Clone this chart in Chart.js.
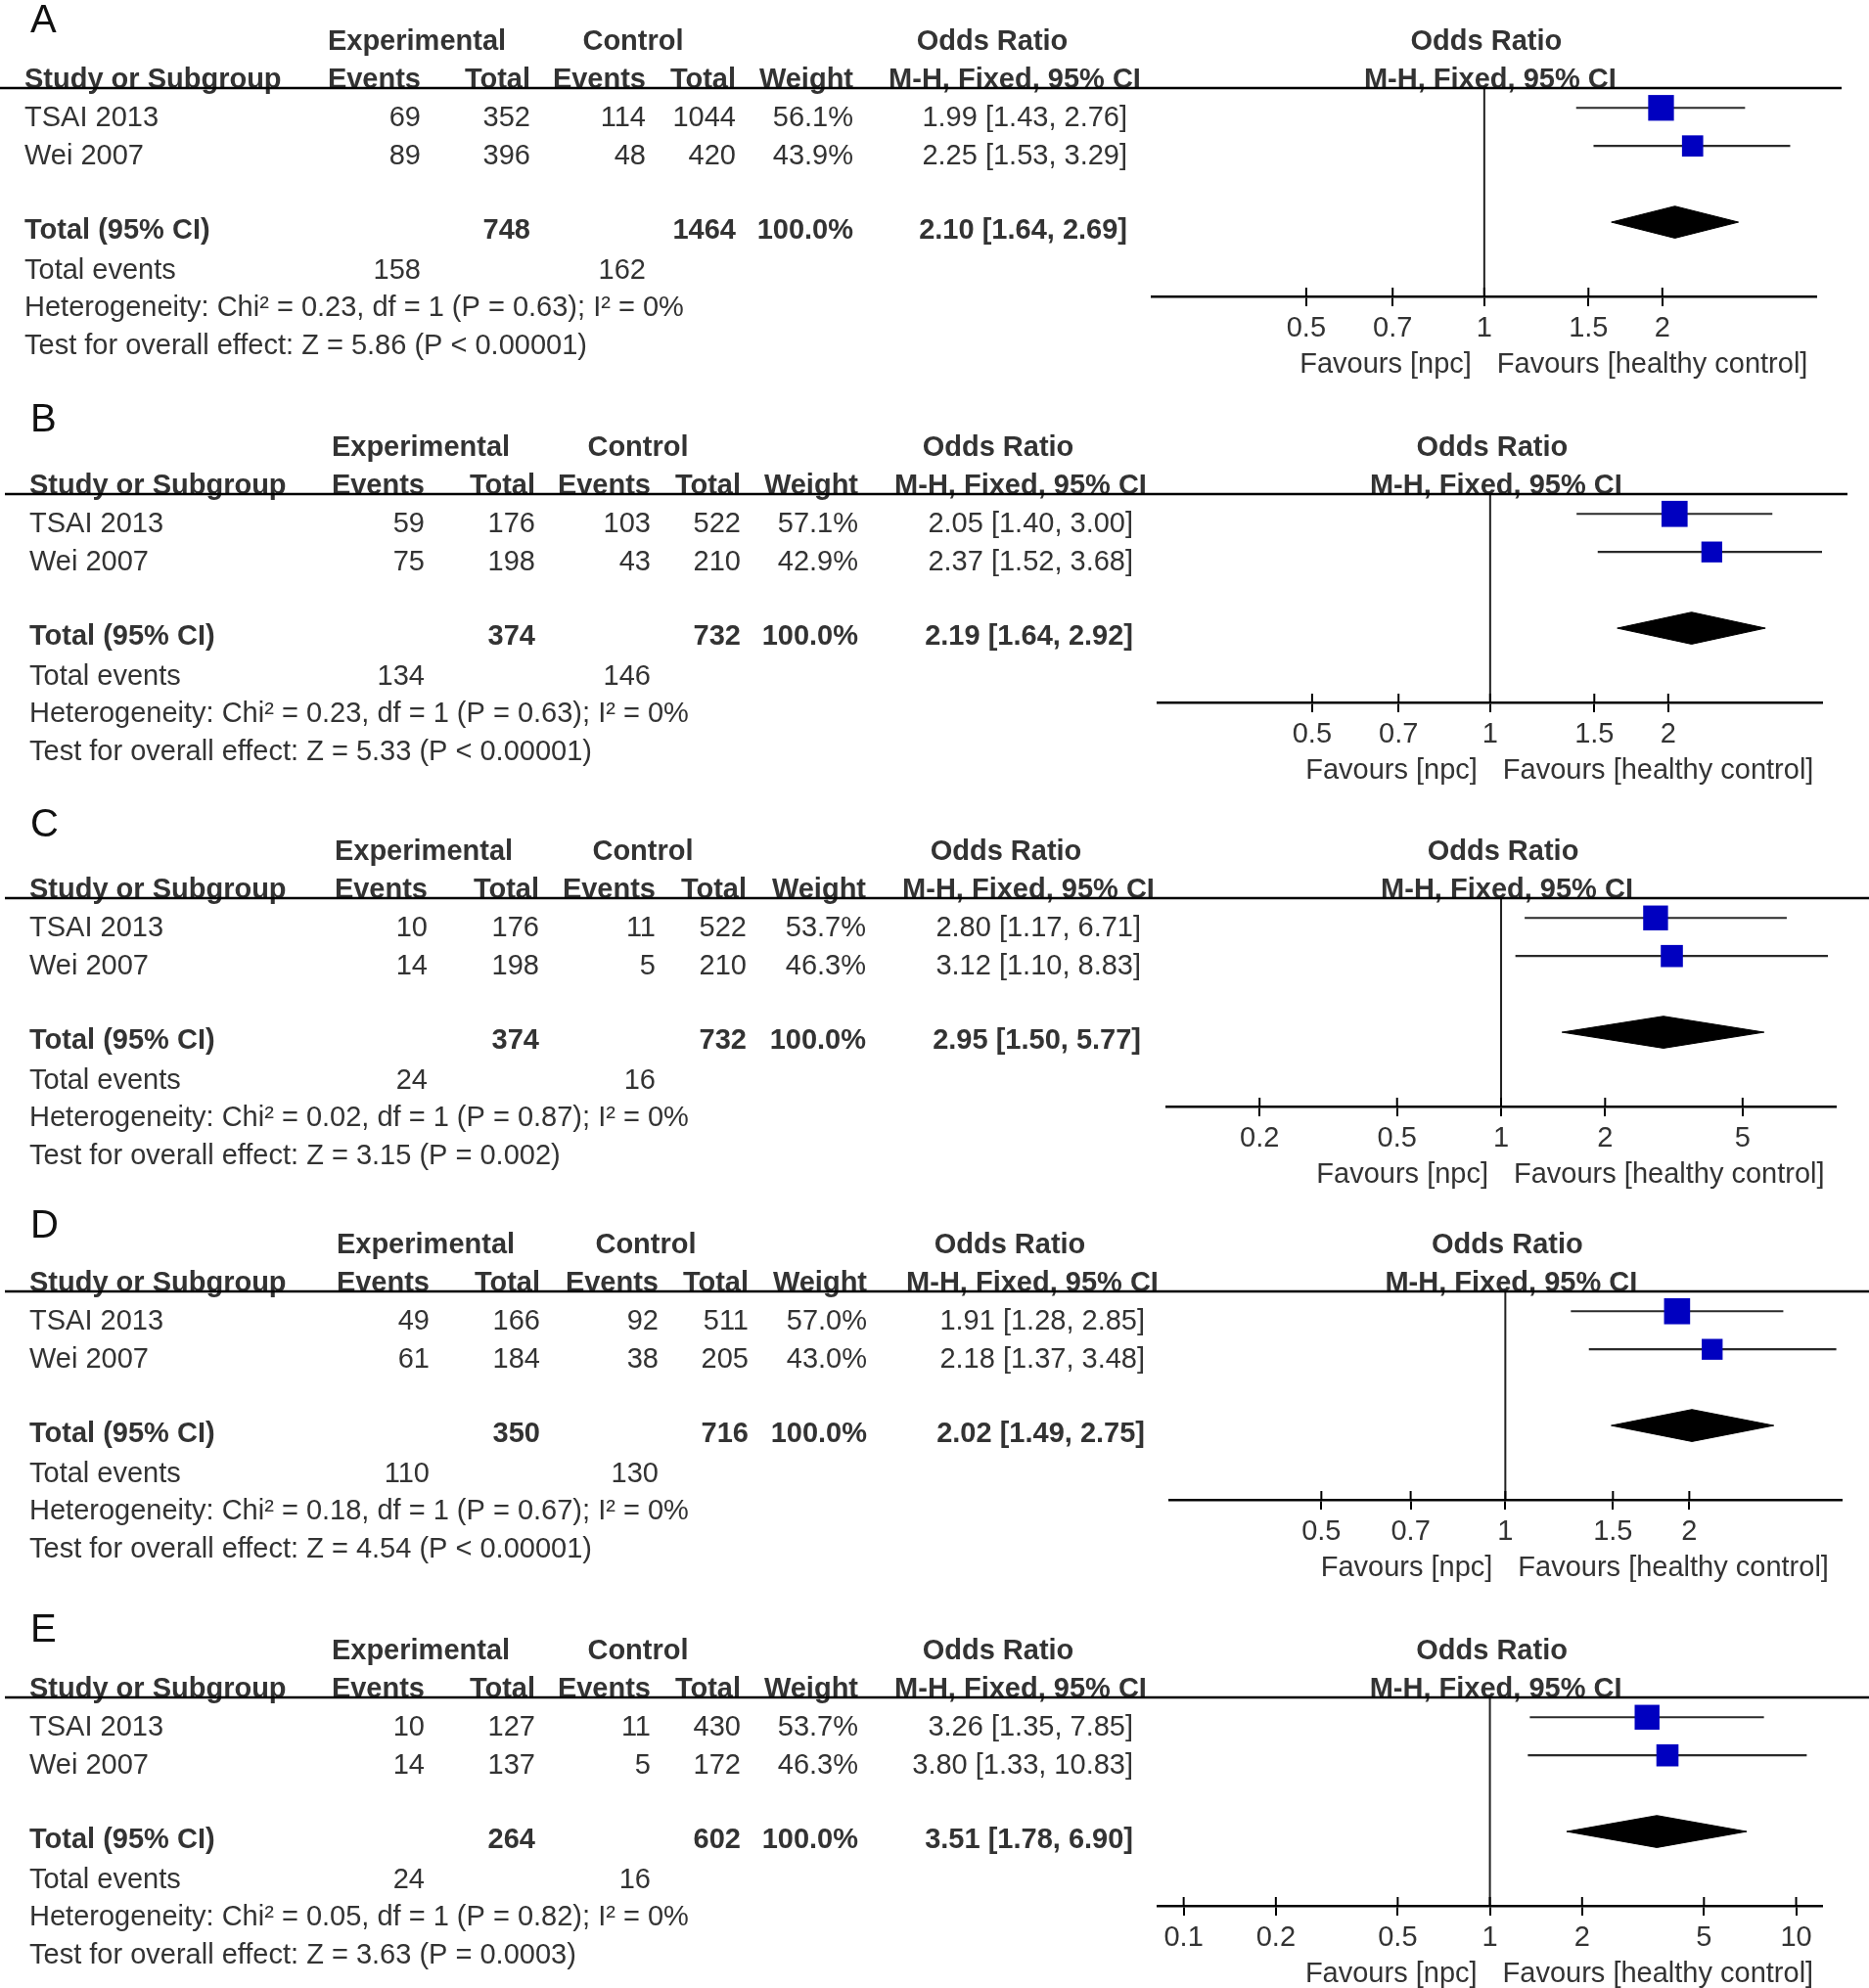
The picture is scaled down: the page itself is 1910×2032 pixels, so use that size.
<!DOCTYPE html>
<html>
<head>
<meta charset="utf-8">
<script src="https://cdn.jsdelivr.net/npm/chart.js@4.4.1/dist/chart.umd.min.js"></script>
<style>
  html, body { margin: 0; padding: 0; background: #fff; overflow: hidden; }
  #page { position: relative; width: 1910px; height: 2032px; }
  #page canvas { position: absolute; left: 0; }
</style>
</head>
<body>
<div id="page"></div>
<script>
// ---- data ----
const panelLetters = ['A', 'B', 'C', 'D', 'E'];
const studyNames = ['TSAI 2013', 'Wei 2007'];
const expEvents = [[69, 89], [59, 75], [10, 14], [49, 61], [10, 14]];
const expTotals = [[352, 396], [176, 198], [176, 198], [166, 184], [127, 137]];
const ctrlEvents = [[114, 48], [103, 43], [11, 5], [92, 38], [11, 5]];
const ctrlTotals = [[1044, 420], [522, 210], [522, 210], [511, 205], [430, 172]];
const weights = [[56.1, 43.9], [57.1, 42.9], [53.7, 46.3], [57.0, 43.0], [53.7, 46.3]];
const oddsRatios = [[1.99, 2.25], [2.05, 2.37], [2.80, 3.12], [1.91, 2.18], [3.26, 3.80]];
const ciLower = [[1.43, 1.53], [1.40, 1.52], [1.17, 1.10], [1.28, 1.37], [1.35, 1.33]];
const ciUpper = [[2.76, 3.29], [3.00, 3.68], [6.71, 8.83], [2.85, 3.48], [7.85, 10.83]];
const pooledOR = [2.10, 2.19, 2.95, 2.02, 3.51];
const pooledLower = [1.64, 1.64, 1.50, 1.49, 1.78];
const pooledUpper = [2.69, 2.92, 5.77, 2.75, 6.90];
const expTotalAll = [748, 374, 374, 350, 264];
const ctrlTotalAll = [1464, 732, 732, 716, 602];
const expEventsAll = [158, 134, 24, 110, 24];
const ctrlEventsAll = [162, 146, 16, 130, 16];
const heterogeneity = [
  'Heterogeneity: Chi² = 0.23, df = 1 (P = 0.63); I² = 0%',
  'Heterogeneity: Chi² = 0.23, df = 1 (P = 0.63); I² = 0%',
  'Heterogeneity: Chi² = 0.02, df = 1 (P = 0.87); I² = 0%',
  'Heterogeneity: Chi² = 0.18, df = 1 (P = 0.67); I² = 0%',
  'Heterogeneity: Chi² = 0.05, df = 1 (P = 0.82); I² = 0%'
];
const overallEffect = [
  'Test for overall effect: Z = 5.86 (P < 0.00001)',
  'Test for overall effect: Z = 5.33 (P < 0.00001)',
  'Test for overall effect: Z = 3.15 (P = 0.002)',
  'Test for overall effect: Z = 4.54 (P < 0.00001)',
  'Test for overall effect: Z = 3.63 (P = 0.0003)'
];
const axisTicks = [
  [0.5, 0.7, 1, 1.5, 2],
  [0.5, 0.7, 1, 1.5, 2],
  [0.2, 0.5, 1, 2, 5],
  [0.5, 0.7, 1, 1.5, 2],
  [0.1, 0.2, 0.5, 1, 2, 5, 10]
];
const axisMin = [0.274, 0.274, 0.1075, 0.282, 0.0822];
const axisMax = [3.64, 3.64, 9.30, 3.55, 12.15];

// ---- layout ----
const FONT = '"Liberation Sans", Arial, sans-serif';
const FS = 29;
const TEXT_COLOR = '#333';
const HEADER_Y = [40, 455, 868, 1270, 1685];   // first header line, page px
const HEAD_OFFSET = 60;                          // where that line sits in each canvas
const CANVAS_H = 420;
const LETTER_Y = [42, 35, 36, 44, 42];
const PLOT_LEFT = [1177, 1183, 1192, 1195, 1183];
const PLOT_RIGHT = [1856, 1862, 1876, 1882, 1862];
const RULE_X = [[0, 1882], [5, 1888], [5, 1910], [5, 1910], [5, 1910]];
const NAME_X = [25, 30, 30, 30, 30];
const COL_RIGHT = [
  [430, 542, 660, 752, 872, 1152],
  [434, 547, 665, 757, 877, 1158],
  [437, 551, 670, 763, 885, 1166],
  [439, 552, 673, 765, 886, 1170],
  [434, 547, 665, 757, 877, 1158]
];
const ROW_TOP = 1.48, ROW_BOTTOM = 6.95;   // y scale range (rule -> axis)
const STUDY_ROWS = [2, 3];
const TOTAL_ROW = 5;
const TEXT_SHIFT = 0.27;
const DIAMOND_HALF = 0.42;

function squareSide(w) {
  return 5.15 + 0.377 * w;   // box size grows with weight
}

function fmtCI(o, l, h) {
  return o.toFixed(2) + ' [' + l.toFixed(2) + ', ' + h.toFixed(2) + ']';
}

const forestTable = {
  id: 'forestTable',
  afterDraw(chart, args, opts) {
    const i = opts.panel;
    const ctx = chart.ctx;
    const xs = chart.scales.x;
    const ys = chart.scales.y;
    const area = chart.chartArea;
    const rowY = r => ys.getPixelForValue(r + TEXT_SHIFT);
    const col = COL_RIGHT[i];
    const vx = xs.getPixelForValue(1);

    function txt(s, x, y, align, bold, size) {
      ctx.font = (bold ? 'bold ' : '') + (size || FS) + 'px ' + FONT;
      ctx.textAlign = align;
      ctx.fillText(s, x, y);
    }

    ctx.save();
    ctx.fillStyle = TEXT_COLOR;
    ctx.textBaseline = 'middle';

    // panel letter
    ctx.fillStyle = '#111';
    txt(panelLetters[i], 31, LETTER_Y[i], 'left', false, 40);
    ctx.fillStyle = TEXT_COLOR;

    // header lines
    const h1 = rowY(0), h2 = rowY(1);
    txt('Experimental', col[0] - 4, h1, 'center', true);
    txt('Control', col[2] - 13, h1, 'center', true);
    txt('Odds Ratio', col[5] - 138, h1, 'center', true);
    txt('Odds Ratio', vx + 2, h1, 'center', true);
    txt('Study or Subgroup', NAME_X[i], h2, 'left', true);
    txt('Events', col[0], h2, 'right', true);
    txt('Total', col[1], h2, 'right', true);
    txt('Events', col[2], h2, 'right', true);
    txt('Total', col[3], h2, 'right', true);
    txt('Weight', col[4], h2, 'right', true);
    txt('M-H, Fixed, 95% CI', col[5] - 115, h2, 'center', true);
    txt('M-H, Fixed, 95% CI', vx + 6, h2, 'center', true);

    // study rows
    studyNames.forEach((name, k) => {
      const y = rowY(STUDY_ROWS[k]);
      txt(name, NAME_X[i], y, 'left', false);
      txt(String(expEvents[i][k]), col[0], y, 'right', false);
      txt(String(expTotals[i][k]), col[1], y, 'right', false);
      txt(String(ctrlEvents[i][k]), col[2], y, 'right', false);
      txt(String(ctrlTotals[i][k]), col[3], y, 'right', false);
      txt(weights[i][k].toFixed(1) + '%', col[4], y, 'right', false);
      txt(fmtCI(oddsRatios[i][k], ciLower[i][k], ciUpper[i][k]), col[5], y, 'right', false);
    });

    // total rows
    let y = rowY(TOTAL_ROW) - 2;
    const wSum = weights[i].reduce((a, b) => a + b, 0);
    txt('Total (95% CI)', NAME_X[i], y, 'left', true);
    txt(String(expTotalAll[i]), col[1], y, 'right', true);
    txt(String(ctrlTotalAll[i]), col[3], y, 'right', true);
    txt(wSum.toFixed(1) + '%', col[4], y, 'right', true);
    txt(fmtCI(pooledOR[i], pooledLower[i], pooledUpper[i]), col[5], y, 'right', true);
    y = rowY(TOTAL_ROW + 1);
    txt('Total events', NAME_X[i], y, 'left', false);
    txt(String(expEventsAll[i]), col[0], y, 'right', false);
    txt(String(ctrlEventsAll[i]), col[2], y, 'right', false);
    txt(heterogeneity[i], NAME_X[i], rowY(TOTAL_ROW + 2), 'left', false);
    txt(overallEffect[i], NAME_X[i], rowY(TOTAL_ROW + 3), 'left', false);

    // favours labels under the axis
    const fy = area.bottom + 70;
    txt('Favours [npc]', vx - 13, fy, 'right', false);
    txt('Favours [healthy control]', vx + 13, fy, 'left', false);

    // header rule
    ctx.strokeStyle = '#000';
    ctx.lineWidth = 2.5;
    ctx.beginPath();
    ctx.moveTo(RULE_X[i][0], area.top);
    ctx.lineTo(RULE_X[i][1], area.top);
    ctx.stroke();

    // upper half of the axis ticks
    ctx.lineWidth = 2;
    xs.ticks.forEach(t => {
      const px = xs.getPixelForValue(t.value);
      ctx.beginPath();
      ctx.moveTo(px, area.bottom - 9);
      ctx.lineTo(px, area.bottom);
      ctx.stroke();
    });
    ctx.restore();
  }
};

const page = document.getElementById('page');

panelLetters.forEach((letter, i) => {
  const canvas = document.createElement('canvas');
  canvas.width = 1910;
  canvas.height = CANVAS_H;
  canvas.style.top = (HEADER_Y[i] - HEAD_OFFSET) + 'px';
  page.appendChild(canvas);

  const datasets = [];
  // study squares
  datasets.push({
    data: oddsRatios[i].map((v, k) => ({ x: v, y: STUDY_ROWS[k] })),
    showLine: false,
    pointStyle: 'rect',
    pointRadius: weights[i].map(w => squareSide(w) / Math.SQRT2),
    pointBackgroundColor: '#0000c0',
    pointBorderWidth: 0,
    order: 0
  });
  // pooled diamond
  datasets.push({
    data: [
      { x: pooledLower[i], y: TOTAL_ROW },
      { x: pooledOR[i], y: TOTAL_ROW - DIAMOND_HALF },
      { x: pooledUpper[i], y: TOTAL_ROW },
      { x: pooledOR[i], y: TOTAL_ROW + DIAMOND_HALF },
      { x: pooledLower[i], y: TOTAL_ROW }
    ],
    fill: 'shape',
    backgroundColor: '#000',
    borderColor: '#000',
    borderWidth: 1,
    pointRadius: 0,
    tension: 0,
    order: 1
  });
  // confidence intervals
  studyNames.forEach((name, k) => {
    datasets.push({
      data: [{ x: ciLower[i][k], y: STUDY_ROWS[k] }, { x: ciUpper[i][k], y: STUDY_ROWS[k] }],
      borderColor: '#2a2a2a',
      borderWidth: 2.2,
      pointRadius: 0,
      fill: false,
      order: 2
    });
  });
  // line of no effect
  datasets.push({
    data: [{ x: 1, y: ROW_TOP }, { x: 1, y: ROW_BOTTOM }],
    borderColor: '#222',
    borderWidth: 2,
    pointRadius: 0,
    fill: false,
    order: 3
  });

  new Chart(canvas, {
    type: 'line',
    data: { datasets },
    options: {
      responsive: false,
      animation: false,
      devicePixelRatio: 1,
      layout: { padding: { left: PLOT_LEFT[i], right: 1910 - PLOT_RIGHT[i], top: HEAD_OFFSET + 50, bottom: 50 } },
      plugins: {
        legend: { display: false },
        tooltip: { enabled: false },
        forestTable: { panel: i }
      },
      scales: {
        x: {
          type: 'logarithmic',
          position: 'bottom',
          min: axisMin[i],
          max: axisMax[i],
          bounds: 'data',
          afterBuildTicks: s => { s.ticks = axisTicks[i].map(v => ({ value: v })); },
          afterFit: s => { s.height = 47; },
          grid: { drawOnChartArea: false, drawTicks: true, tickLength: 10, color: '#000', lineWidth: 2 },
          border: { display: true, color: '#000', width: 2.5 },
          ticks: {
            autoSkip: false, maxRotation: 0, padding: 6, color: TEXT_COLOR,
            font: { family: FONT, size: FS },
            callback: v => String(v)
          }
        },
        y: {
          type: 'linear',
          display: false,
          reverse: true,
          min: ROW_TOP,
          max: ROW_BOTTOM,
          bounds: 'data'
        }
      }
    },
    plugins: [forestTable]
  });
});
</script>
</body>
</html>
